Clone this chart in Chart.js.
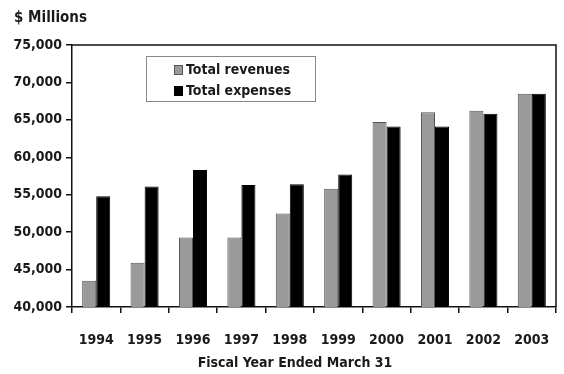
<!DOCTYPE html>
<html>
<head>
<meta charset="utf-8">
<script src="https://cdn.jsdelivr.net/npm/chart.js@4.4.1/dist/chart.umd.min.js"></script>
<style>
html,body{margin:0;padding:0;background:#fff;}
#wrap{width:564px;height:374px;position:relative;}
</style>
</head>
<body>
<div id="wrap"><canvas id="c" width="564" height="374"></canvas></div>
<script>
const years = ['1994','1995','1996','1997','1998','1999','2000','2001','2002','2003'];
const totalRevenues = [43500, 45900, 49300, 49300, 52500, 55800, 64700, 66000, 66200, 68500];
const totalExpenses = [54800, 56100, 58300, 56300, 56400, 57700, 64100, 64100, 65800, 68500];
const yMin = 40000, yMax = 75000, yStep = 5000;
const unitLabel = '$ Millions';
const xTitle = 'Fiscal Year Ended March 31';

const FONT = '"Liberation Sans Narrow", "Arial Narrow", "DejaVu Sans Condensed", sans-serif';

const decor = {
  id: 'decor',
  afterDraw(chart) {
    const ctx = chart.ctx, a = chart.chartArea;
    ctx.save();
    ctx.strokeStyle = '#111';
    ctx.lineWidth = 1.5;
    ctx.beginPath();
    ctx.moveTo(a.left, a.top);
    ctx.lineTo(a.right, a.top);
    ctx.lineTo(a.right, a.bottom);
    ctx.stroke();
    ctx.fillStyle = '#1a1a1a';
    ctx.font = 'bold 15px ' + FONT;
    ctx.textBaseline = 'middle';
    ctx.textAlign = 'left';
    ctx.fillText(unitLabel, 14, 18);
    ctx.textAlign = 'center';
    ctx.font = 'bold 14px ' + FONT;
    ctx.fillText(xTitle, 295, 363);
    const lx = 146.5, ly = 56.5, lw = 169, lh = 45;
    ctx.strokeStyle = '#888';
    ctx.lineWidth = 1;
    ctx.strokeRect(lx, ly, lw, lh);
    ctx.font = 'bold 14px ' + FONT;
    ctx.textAlign = 'left';
    chart.data.datasets.forEach((ds, i) => {
      const cy = 70 + i * 21;
      ctx.fillStyle = ds.backgroundColor;
      ctx.fillRect(174, cy - 5, 9, 10);
      ctx.strokeStyle = ds.borderColor;
      ctx.strokeRect(174.5, cy - 4.5, 8, 9);
      ctx.fillStyle = '#1a1a1a';
      ctx.fillText(ds.label, 186, cy);
    });
    ctx.restore();
  }
};

new Chart(document.getElementById('c'), {
  type: 'bar',
  data: {
    labels: years,
    datasets: [
      { label: 'Total revenues', data: totalRevenues, backgroundColor: '#9a9a9a', borderColor: '#555', borderWidth: 1, borderSkipped: 'bottom' },
      { label: 'Total expenses', data: totalExpenses, backgroundColor: '#000', borderColor: '#000', borderWidth: 1, borderSkipped: 'bottom' }
    ]
  },
  options: {
    responsive: false,
    animation: false,
    devicePixelRatio: 1,
    layout: { padding: { top: 45, right: 8, left: 0, bottom: 0 } },
    categoryPercentage: 0.58,
    barPercentage: 1.0,
    plugins: { legend: { display: false }, tooltip: { enabled: false }, title: { display: false } },
    scales: {
      x: {
        grid: { display: true, drawOnChartArea: false, drawTicks: true, tickLength: 6, color: '#111', lineWidth: 1.5, offset: true },
        border: { display: true, color: '#111', width: 1.5 },
        ticks: { color: '#1a1a1a', font: { family: FONT, size: 14, weight: 'bold' }, padding: 19, maxRotation: 0 },
        afterFit(s) { s.height = 67; s.paddingLeft = 0; s.paddingRight = 0; }
      },
      y: {
        min: yMin, max: yMax,
        grid: { display: true, drawOnChartArea: false, drawTicks: true, tickLength: 6, color: '#111', lineWidth: 1.5 },
        border: { display: true, color: '#111', width: 1.5 },
        ticks: { stepSize: yStep, color: '#1a1a1a', font: { family: FONT, size: 14, weight: 'bold' }, padding: 4,
          callback: v => v.toLocaleString('en-US') },
        afterFit(s) { s.width = 72; s.paddingTop = 0; s.paddingBottom = 0; }
      }
    }
  },
  plugins: [decor]
});
</script>
</body>
</html>
